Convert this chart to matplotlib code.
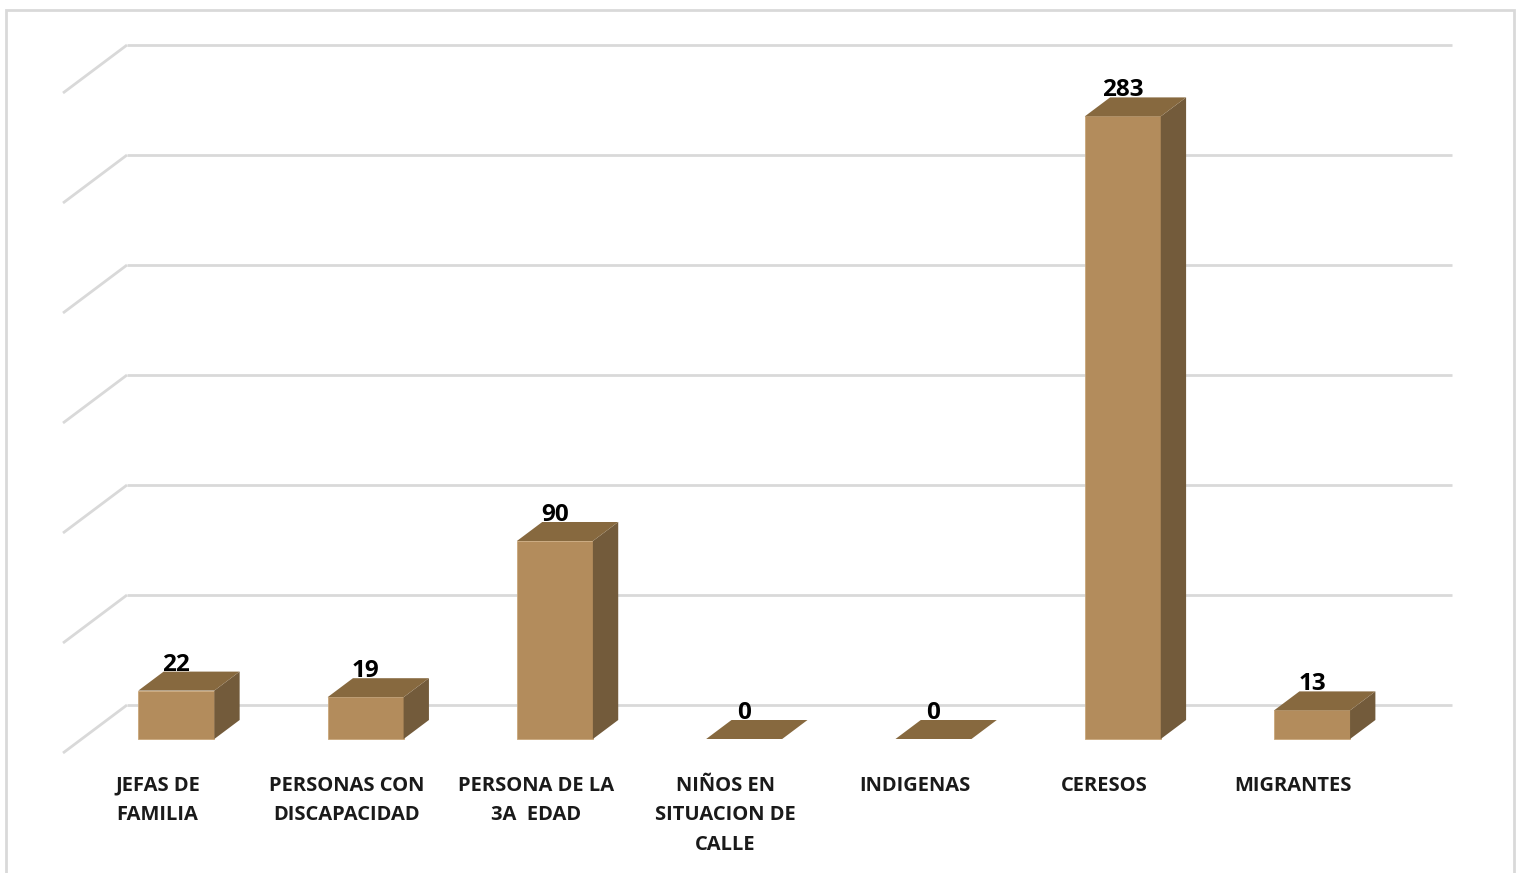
import matplotlib
matplotlib.use("Agg")
import matplotlib.pyplot as plt
from matplotlib.patches import Polygon, Rectangle

categories = ["JEFAS DE\nFAMILIA", "PERSONAS CON\nDISCAPACIDAD", "PERSONA DE LA\n3A  EDAD",
              "NIÑOS EN\nSITUACION DE\nCALLE", "INDIGENAS", "CERESOS", "MIGRANTES"]
values = [22, 19, 90, 0, 0, 283, 13]
grid_values = [0, 50, 100, 150, 200, 250, 300]

W, H = 1523, 873
fig = plt.figure(figsize=(W / 100, H / 100), dpi=100)
ax = fig.add_axes([0, 0, 1, 1])
ax.set_axis_off()

cat_px = 189.29
val_px = 2.2
x0_px, y0_px = 63, 753
ax.set_xlim(-0.5 - x0_px / cat_px, -0.5 + (W - x0_px) / cat_px)
ax.set_ylim((y0_px - H) / val_px, y0_px / val_px)

DX = 64 / cat_px
DY = 48 / val_px
f0, f1 = 14 / 48, 33 / 48
bw = 76 / cat_px

grid_c = "#D9D9D9"
n = len(categories)
for g in grid_values:
    ax.plot([-0.5, -0.5 + DX], [g, g + DY], color=grid_c, lw=2, zorder=1, solid_capstyle="butt")
    ax.plot([-0.5 + DX, n - 0.5 + DX], [g + DY, g + DY], color=grid_c, lw=2, zorder=1,
            solid_capstyle="butt")

front_c = "#B38C5C"
top_c = "#87693F"
side_c = "#735B3B"
fam = ["Open Sans", "DejaVu Sans"]
for i, v in enumerate(values):
    xl = i - bw / 2 + DX * f0
    xr = i + bw / 2 + DX * f0
    yb = DY * f0
    ddx = DX * (f1 - f0)
    ddy = DY * (f1 - f0)
    if v > 0:
        ax.add_patch(Polygon([(xl, yb), (xr, yb), (xr, yb + v), (xl, yb + v)],
                             closed=True, fc=front_c, ec="#C9A77A", lw=0.6, zorder=3))
        ax.add_patch(Polygon([(xr, yb), (xr + ddx, yb + ddy), (xr + ddx, yb + ddy + v), (xr, yb + v)],
                             closed=True, fc=side_c, ec="none", zorder=3))
    ax.add_patch(Polygon([(xl, yb + v), (xr, yb + v), (xr + ddx, yb + ddy + v), (xl + ddx, yb + ddy + v)],
                         closed=True, fc=top_c, ec="none", zorder=3))
    ax.text(i + DX * f0, v + DY * f1 - 2.3, str(v), ha="center", va="bottom",
            fontsize=17.5, fontweight="bold", family=fam, color="black", zorder=5)
    ax.text(i, -10.3, categories[i], ha="center", va="top", fontsize=14.5, fontweight="bold",
            family=fam, color="#1a1a1a", linespacing=1.64, zorder=5)

fig.add_artist(Rectangle((6 / W, -0.05), (1514 - 6) / W, 1.05 - 10 / H, transform=fig.transFigure,
                         fill=False, ec=grid_c, lw=2))

fig.savefig("out.png", dpi=100, facecolor="white")
